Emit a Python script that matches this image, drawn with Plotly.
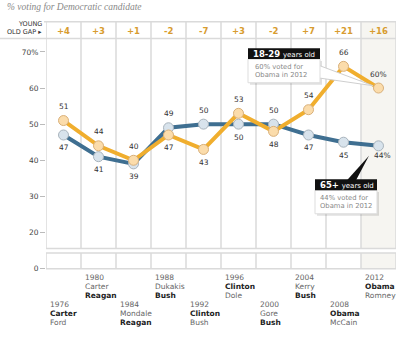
import plotly.graph_objects as go

# ---------------- data ----------------
years = ["1976", "1980", "1984", "1988", "1992", "1996", "2000", "2004", "2008", "2012"]
dem_cand = ["Carter", "Carter", "Mondale", "Dukakis", "Clinton", "Clinton", "Gore", "Kerry", "Obama", "Obama"]
rep_cand = ["Ford", "Reagan", "Reagan", "Bush", "Bush", "Dole", "Bush", "Bush", "McCain", "Romney"]
dem_won = [True, False, False, False, True, True, False, False, True, True]
young_old_gap = ["+4", "+3", "+1", "-2", "-7", "+3", "-2", "+7", "+21", "+16"]
young_18_29 = [51, 44, 40, 47, 43, 53, 48, 54, 66, 60]
old_65plus = [47, 41, 39, 49, 50, 50, 50, 47, 45, 44]
young_label_pos = ["above", "above", "above", "below", "below", "above", "below", "above", "above", "above"]
old_label_pos = ["below", "below", "below", "above", "above", "below", "above", "below", "below", "below"]

W, H = 400, 338
def px(x):
    return x / W
def py(y):
    return 1 - y / H

ORANGE = "#f0ae2e"
ORANGE_FILL = "#fbdcab"
BLUE = "#3f6f91"
BLUE_FILL = "#d8e3ec"
GRID = "#dadada"
FONT = "DejaVu Sans"

n = len(years)
xs = list(range(n))

fig = go.Figure()

# lines
fig.add_trace(go.Scatter(x=xs, y=old_65plus, mode="lines", line=dict(color=BLUE, width=4),
                         hoverinfo="skip", showlegend=False))
fig.add_trace(go.Scatter(x=xs, y=young_18_29, mode="lines", line=dict(color=ORANGE, width=4),
                         hoverinfo="skip", showlegend=False))
# markers
fig.add_trace(go.Scatter(x=xs, y=old_65plus, mode="markers",
                         marker=dict(size=10, color=BLUE_FILL, line=dict(color="#a9b4bd", width=1)),
                         hoverinfo="skip", showlegend=False))
fig.add_trace(go.Scatter(x=xs, y=young_18_29, mode="markers",
                         marker=dict(size=10, color=ORANGE_FILL, line=dict(color="#d9b07a", width=1)),
                         hoverinfo="skip", showlegend=False))
# dummy for lower axis
fig.add_trace(go.Scatter(x=[None], y=[None], yaxis="y2", showlegend=False, hoverinfo="skip"))

annotations = []
# data labels
for i in range(n):
    for vals, pos in ((young_18_29, young_label_pos), (old_65plus, old_label_pos)):
        v = vals[i]
        txt = f"{v}%" if i == n - 1 else str(v)
        ys = 14 if pos[i] == "above" else -13
        xsft = 0
        if i == n - 1 and pos[i] == "below":
            ys = -10
            xsft = 4
        annotations.append(dict(x=i, y=v, xref="x", yref="y", text=txt, showarrow=False,
                                yshift=ys, xshift=xsft, font=dict(family=FONT, size=7.5, color="#333"),
                                xanchor="center", yanchor="middle"))

# header row: young-old gap
for i in range(n):
    annotations.append(dict(x=i, y=py(31), xref="x", yref="paper", text=f"<b>{young_old_gap[i]}</b>",
                            showarrow=False, font=dict(family=FONT, size=8.5, color="#d89c30"),
                            xanchor="center", yanchor="middle"))
annotations.append(dict(x=px(44), y=py(24), xref="paper", yref="paper", text="YOUNG", showarrow=False,
                        font=dict(family=FONT, size=6.5, color="#333"), xanchor="right", yanchor="middle"))
annotations.append(dict(x=px(44), y=py(32), xref="paper", yref="paper", text="OLD GAP \u25b8", showarrow=False,
                        font=dict(family=FONT, size=6.5, color="#333"), xanchor="right", yanchor="middle"))

# title
annotations.append(dict(x=px(5), y=py(7), xref="paper", yref="paper",
                        text="<i>% voting for Democratic candidate</i>", showarrow=False,
                        font=dict(family="Liberation Serif", size=9.5, color="#888"),
                        xanchor="left", yanchor="middle"))

# bottom election labels
for i in range(n):
    upper = (i % 2 == 1)
    base = [282, 291, 299.5] if upper else [309.5, 318.5, 327]
    dem_txt = f"<b>{dem_cand[i]}</b>" if dem_won[i] else dem_cand[i]
    rep_txt = rep_cand[i] if dem_won[i] else f"<b>{rep_cand[i]}</b>"
    for j, t in enumerate([years[i], dem_txt, rep_txt]):
        bold = t.startswith("<b>")
        annotations.append(dict(x=i - 0.5, y=py(base[j]), xref="x", yref="paper", text=t, showarrow=False,
                                xshift=2, font=dict(family=FONT, size=7.5, color="#222" if bold else "#666"),
                                xanchor="left", yanchor="middle"))

# callout texts
annotations.append(dict(x=px(251), y=py(54.5), xref="paper", yref="paper",
                        text="<b>18-29</b> <span style='font-size:7px'>years old</span>", showarrow=False,
                        font=dict(family=FONT, size=8.5, color="white"), xanchor="left", yanchor="middle"))
annotations.append(dict(x=px(253), y=py(67.5), xref="paper", yref="paper", text="60% voted for",
                        showarrow=False, font=dict(family=FONT, size=6.8, color="#888"),
                        xanchor="left", yanchor="middle"))
annotations.append(dict(x=px(253), y=py(76), xref="paper", yref="paper", text="Obama in 2012",
                        showarrow=False, font=dict(family=FONT, size=6.8, color="#888"),
                        xanchor="left", yanchor="middle"))
annotations.append(dict(x=px(318), y=py(187.5), xref="paper", yref="paper",
                        text="<b>65+</b> <span style='font-size:7px'>years old</span>", showarrow=False,
                        font=dict(family=FONT, size=8.5, color="white"), xanchor="left", yanchor="middle"))
annotations.append(dict(x=px(318), y=py(200.5), xref="paper", yref="paper", text="44% voted for",
                        showarrow=False, font=dict(family=FONT, size=6.8, color="#888"),
                        xanchor="left", yanchor="middle"))
annotations.append(dict(x=px(318), y=py(209.5), xref="paper", yref="paper", text="Obama in 2012",
                        showarrow=False, font=dict(family=FONT, size=6.8, color="#888"),
                        xanchor="left", yanchor="middle"))

shapes = []
TOP, BOT, LTOP, LBOT = 22, 252.3, 256.7, 272.7
# shaded last column
for (a, b) in ((TOP, BOT), (LTOP, LBOT)):
    shapes.append(dict(type="rect", xref="x", yref="paper", x0=n - 1.5, x1=n - 0.5, y0=py(b), y1=py(a),
                       fillcolor="#f6f5f1", line=dict(width=0), layer="below"))
# vertical column lines
for k in range(n + 1):
    e = k - 0.5
    for (a, b) in ((TOP, BOT), (LTOP, LBOT)):
        shapes.append(dict(type="line", xref="x", yref="paper", x0=e, x1=e, y0=py(b), y1=py(a),
                           line=dict(color=GRID, width=1.5), layer="below"))
# horizontal lines
for (x0, yv) in ((44, TOP), (0, 39), (46, BOT), (46, LTOP), (46, LBOT)):
    shapes.append(dict(type="line", xref="paper", yref="paper", x0=px(x0), x1=px(396), y0=py(yv), y1=py(yv),
                       line=dict(color=GRID, width=1.5), layer="below"))

def path(pts):
    return "M " + " L ".join(f"{px(a)},{py(b)}" for a, b in pts) + " Z"

# 18-29 callout
shapes.append(dict(type="rect", xref="paper", yref="paper", x0=px(250), x1=px(322), y0=py(86), y1=py(62),
                   fillcolor="rgba(0,0,0,0.12)", line=dict(width=0)))
shapes.append(dict(type="path", xref="paper", yref="paper", path=path([(318, 66), (318, 79), (373, 87)]),
                   fillcolor="white", line=dict(color="#cfcfcf", width=1)))
shapes.append(dict(type="rect", xref="paper", yref="paper", x0=px(248), x1=px(320), y0=py(84), y1=py(60),
                   fillcolor="white", line=dict(color="#dddddd", width=1)))
shapes.append(dict(type="rect", xref="paper", yref="paper", x0=px(248), x1=px(320), y0=py(60), y1=py(49),
                   fillcolor="#111111", line=dict(width=0)))
# 65+ callout
shapes.append(dict(type="path", xref="paper", yref="paper", path=path([(347, 183), (356, 183), (369, 158)]),
                   fillcolor="#111111", line=dict(width=0)))
shapes.append(dict(type="rect", xref="paper", yref="paper", x0=px(317), x1=px(379), y0=py(219), y1=py(195),
                   fillcolor="rgba(0,0,0,0.12)", line=dict(width=0)))
shapes.append(dict(type="rect", xref="paper", yref="paper", x0=px(315), x1=px(377), y0=py(217), y1=py(193),
                   fillcolor="white", line=dict(color="#dddddd", width=1)))
shapes.append(dict(type="rect", xref="paper", yref="paper", x0=px(315), x1=px(377), y0=py(193), y1=py(182),
                   fillcolor="#111111", line=dict(width=0)))

k = (236 - 52.7) / 50.0
ytop = 70 + (52.7 - TOP) / k
ybot = 20 - (BOT - 236) / k

fig.update_layout(
    width=W, height=H, margin=dict(l=0, r=0, t=0, b=0),
    paper_bgcolor="white", plot_bgcolor="rgba(0,0,0,0)",
    showlegend=False,
    xaxis=dict(domain=[px(46), px(396)], range=[-0.5, n - 0.5], showticklabels=False, showgrid=False,
               zeroline=False, showline=False, ticks="", fixedrange=True),
    yaxis=dict(domain=[py(BOT), py(TOP)], range=[ybot, ytop], tickvals=[20, 30, 40, 50, 60, 70],
               ticktext=["20", "30", "40", "50", "60", "70%"], ticks="outside", ticklen=5, tickcolor="#bbbbbb",
               showgrid=False, zeroline=False, showline=False,
               tickfont=dict(family=FONT, size=7.5, color="#444"), fixedrange=True),
    yaxis2=dict(domain=[py(LBOT), py(LTOP)], range=[0, (LBOT - LTOP) / k], anchor="x",
                tickvals=[0], ticktext=["0"], ticks="outside", ticklen=5, tickcolor="#bbbbbb",
                showgrid=False, zeroline=False, showline=False,
                tickfont=dict(family=FONT, size=7.5, color="#444"), fixedrange=True),
    annotations=annotations,
    shapes=shapes,
)

fig.write_html("out.html")
